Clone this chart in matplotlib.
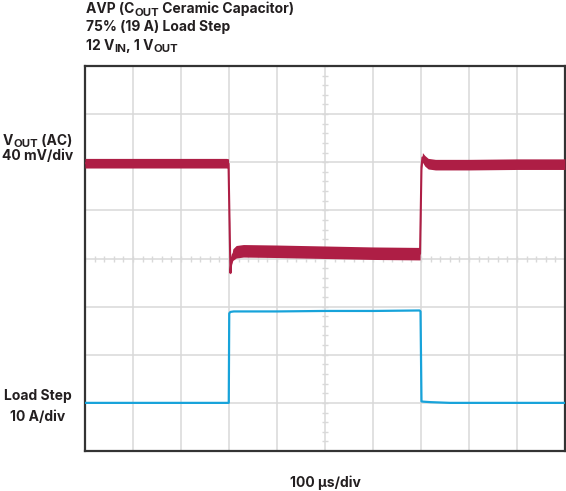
import numpy as np
import matplotlib
matplotlib.use("Agg")
import matplotlib.pyplot as plt

# --- Fonts ---
plt.rcParams['font.family'] = ['Inter', 'DejaVu Sans']

# --- Data (time in us, amplitudes in screen divisions) ---
# VOUT (AC), 40 mV/div
vout_t = [0, 100, 200, 295, 299, 303, 305, 308, 315, 330, 400, 500, 600, 698,
          701, 703, 708, 715, 730, 800, 900, 1000]
vout_div = [1.98, 1.98, 1.98, 1.98, 1.97, -0.30, -0.05, 0.08, 0.14, 0.16, 0.15,
            0.13, 0.11, 0.10, 1.90, 2.10, 2.03, 1.97, 1.95, 1.95, 1.96, 1.96]
# half height of the noise band on VOUT
vout_noise = [0.10, 0.10, 0.10, 0.10, 0.10, 0.04, 0.08, 0.12, 0.13, 0.13, 0.13,
              0.13, 0.13, 0.13, 0.04, 0.10, 0.11, 0.11, 0.11, 0.11, 0.11, 0.11]

# Load step, 10 A/div
iload_t = [0, 100, 200, 299.5, 300.5, 303, 310, 400, 500, 600, 697, 699, 701,
           705, 720, 760, 1000]
iload_div = [-3.0, -3.0, -3.0, -3.0, -1.14, -1.11, -1.10, -1.10, -1.09, -1.09,
             -1.08, -1.10, -2.97, -2.975, -2.985, -3.0, -3.0]

US_PER_DIV = 100
N_XDIV = 10
N_YDIV = 8

RED = '#ae1e45'
BLUE = '#17a3da'
GRID = '#d9d9d9'
TEXT = '#231f20'

W, H = 566, 491

# --- Figure ---
fig = plt.figure(figsize=(W / 100, H / 100), dpi=100)
ax = fig.add_axes([85 / W, 40 / H, 480 / W, 385 / H])

x_v = np.array(vout_t) / US_PER_DIV
y_v = np.array(vout_div)
n_v = np.array(vout_noise)
x_i = np.array(iload_t) / US_PER_DIV
y_i = np.array(iload_div)

# grid
for k in range(1, N_XDIV):
    ax.axvline(k, color=GRID, lw=1.1, zorder=1)
for k in range(-N_YDIV // 2 + 1, N_YDIV // 2):
    ax.axhline(k, color=GRID, lw=1.1, zorder=1)

# minor ticks on the centre cross
xt = np.arange(0, N_XDIV + 0.01, 0.2)
ax.plot(xt, np.zeros_like(xt), ls='none', marker='|', ms=4, mew=1.0,
        color=GRID, zorder=1)
yt = np.arange(-N_YDIV / 2, N_YDIV / 2 + 0.01, 0.2)
ax.plot(np.full_like(yt, N_XDIV / 2), yt, ls='none', marker='_', ms=4,
        mew=1.0, color=GRID, zorder=1)

# traces
ax.fill_between(x_v, y_v - n_v, y_v + n_v, color=RED, lw=0, zorder=3)
ax.plot(x_v, y_v, color=RED, lw=1.5, zorder=3)
ax.plot(x_i, y_i, color=BLUE, lw=1.6, zorder=3)

ax.set_xlim(0, N_XDIV)
ax.set_ylim(-N_YDIV / 2, N_YDIV / 2)
ax.set_xticks([])
ax.set_yticks([])
for s in ax.spines.values():
    s.set_color('#333333')
    s.set_linewidth(1.6)

# --- Text ---
FS = 10
SUB_FS = 8.2
SUB_DROP = 2.5  # px
renderer = fig.canvas.get_renderer()


def rich_text(x_px, base_px, parts, ha='left'):
    """Draw text pieces in a row; parts are (string, is_subscript)."""
    widths = []
    for s, sub in parts:
        t = fig.text(0, 0, s, fontsize=SUB_FS if sub else FS, weight='bold')
        widths.append(t.get_window_extent(renderer).width)
        t.remove()
    x = x_px - (sum(widths) / 2 if ha == 'center' else 0)
    for (s, sub), w in zip(parts, widths):
        y = base_px + (SUB_DROP if sub else 0)
        fig.text(x / W, 1 - y / H, s, fontsize=SUB_FS if sub else FS,
                 weight='bold', color=TEXT, va='baseline')
        x += w


rich_text(86, 13, [('AVP (C', False), ('OUT', True),
                   (' Ceramic Capacitor)', False)])
rich_text(86, 31.5, [('75% (19 A) Load Step', False)])
rich_text(86, 50, [('12 V', False), ('IN', True), (', 1 V', False),
                   ('OUT', True)])

rich_text(37.5, 145, [('V', False), ('OUT', True), (' (AC)', False)],
          ha='center')
rich_text(37.5, 160.5, [('40 mV/div', False)], ha='center')
rich_text(37.5, 400, [('Load Step', False)], ha='center')
rich_text(37.5, 421, [('10 A/div', False)], ha='center')
rich_text(325, 487, [('100 µs/div', False)], ha='center')

fig.savefig('out.png', dpi=100)
